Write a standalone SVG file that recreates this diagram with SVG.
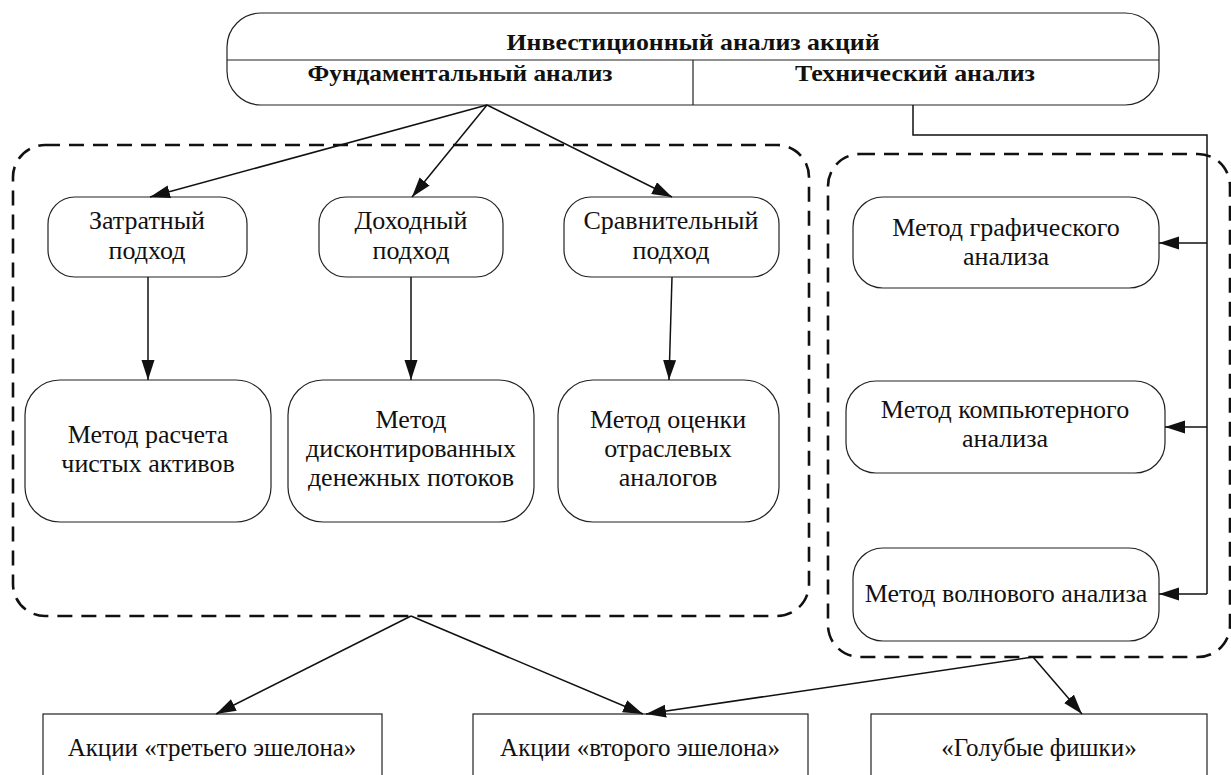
<svg xmlns="http://www.w3.org/2000/svg" width="1231" height="775" viewBox="0 0 1231 775">
<style>
.node{fill:#fff;stroke:#222;stroke-width:1.2}
.grp{fill:none;stroke:#111;stroke-width:2.6;stroke-dasharray:15 9}
.t{font-family:"Liberation Serif","Times New Roman",serif;font-size:26px;fill:#111;text-anchor:middle}
.s{font-family:"Liberation Serif","Times New Roman",serif;font-size:25px;fill:#111;text-anchor:middle}
.b{font-family:"Liberation Serif","Times New Roman",serif;font-size:23px;font-weight:bold;fill:#111;text-anchor:middle}
.c{fill:none;stroke:#111;stroke-width:1.5}
</style>
<defs>
<marker id="ah" markerUnits="userSpaceOnUse" markerWidth="21" markerHeight="14" refX="20" refY="6.5" orient="auto">
<path d="M0,0 L20,6.5 L0,13 Z" fill="#111"/>
</marker>
</defs>
<rect width="1231" height="775" fill="#fff"/>

<g id="group-fundamental"><rect class="grp" x="13" y="145" width="796" height="471" rx="32" ry="32"/></g>
<g id="group-technical"><rect class="grp" x="828" y="154" width="402" height="503" rx="32" ry="32"/></g>

<g id="top">
<rect class="node" x="227" y="13" width="932" height="92" rx="34" ry="34"/>
<line x1="227" y1="60" x2="1159" y2="60" stroke="#222" stroke-width="1.2"/>
<line x1="693" y1="60" x2="693" y2="105" stroke="#222" stroke-width="1.2"/>
<text class="b" x="693" y="50" textLength="373" lengthAdjust="spacingAndGlyphs">Инвестиционный анализ акций</text>
<text class="b" x="460" y="81" textLength="305" lengthAdjust="spacingAndGlyphs">Фундаментальный анализ</text>
<text class="b" x="915" y="81" textLength="240" lengthAdjust="spacingAndGlyphs">Технический анализ</text>
</g>

<g id="n-zatr"><rect class="node" x="48" y="197" width="199" height="80" rx="27"/>
<text class="t" x="147" y="229">Затратный</text><text class="t" x="147" y="259">подход</text></g>
<g id="n-dohod"><rect class="node" x="319" y="197" width="184" height="80" rx="27"/>
<text class="t" x="411" y="229">Доходный</text><text class="t" x="411" y="259">подход</text></g>
<g id="n-srav"><rect class="node" x="564" y="197" width="215" height="80" rx="27"/>
<text class="t" x="671" y="229">Сравнительный</text><text class="t" x="671" y="259">подход</text></g>

<g id="n-m1"><rect class="node" x="25" y="380" width="246" height="142" rx="35"/>
<text class="t" x="148" y="443">Метод расчета</text><text class="t" x="148" y="472">чистых активов</text></g>
<g id="n-m2"><rect class="node" x="288" y="380" width="246" height="142" rx="35"/>
<text class="t" x="411" y="428">Метод</text><text class="t" x="411" y="457">дисконтированных</text><text class="t" x="411" y="486">денежных потоков</text></g>
<g id="n-m3"><rect class="node" x="558" y="380" width="221" height="142" rx="35"/>
<text class="t" x="668" y="428">Метод оценки</text><text class="t" x="668" y="457">отраслевых</text><text class="t" x="668" y="486">аналогов</text></g>

<g id="n-graf"><rect class="node" x="853" y="197" width="306" height="91" rx="30"/>
<text class="t" x="1006" y="236">Метод графического</text><text class="t" x="1006" y="265">анализа</text></g>
<g id="n-comp"><rect class="node" x="846" y="381" width="319" height="92" rx="30"/>
<text class="t" x="1005" y="418">Метод компьютерного</text><text class="t" x="1005" y="447">анализа</text></g>
<g id="n-wave"><rect class="node" x="853" y="548" width="306" height="93" rx="30"/>
<text class="t" x="1006" y="602">Метод волнового анализа</text></g>

<g id="n-third"><rect class="node" x="43" y="714" width="339" height="80"/>
<text class="s" x="212" y="756">Акции «третьего эшелона»</text></g>
<g id="n-second"><rect class="node" x="473" y="714" width="335" height="80"/>
<text class="s" x="640" y="756">Акции «второго эшелона»</text></g>
<g id="n-blue"><rect class="node" x="871" y="714" width="336" height="80"/>
<text class="s" x="1039" y="756">«Голубые фишки»</text></g>

<g id="connectors">
<line class="c" x1="487" y1="105" x2="150" y2="197" marker-end="url(#ah)"/>
<line class="c" x1="487" y1="105" x2="412" y2="197" marker-end="url(#ah)"/>
<line class="c" x1="487" y1="105" x2="672" y2="197" marker-end="url(#ah)"/>
<line class="c" x1="148" y1="277" x2="148" y2="380" marker-end="url(#ah)"/>
<line class="c" x1="411" y1="277" x2="411" y2="380" marker-end="url(#ah)"/>
<line class="c" x1="672" y1="277" x2="669" y2="380" marker-end="url(#ah)"/>
<path class="c" d="M913,105 V135 H1207 V594"/>
<line class="c" x1="1207" y1="243" x2="1159" y2="243" marker-end="url(#ah)"/>
<line class="c" x1="1207" y1="427" x2="1165" y2="427" marker-end="url(#ah)"/>
<line class="c" x1="1207" y1="594" x2="1159" y2="594" marker-end="url(#ah)"/>
<line class="c" x1="411" y1="616" x2="216" y2="714" marker-end="url(#ah)"/>
<line class="c" x1="411" y1="616" x2="643" y2="714" marker-end="url(#ah)"/>
<line class="c" x1="1033" y1="657" x2="646" y2="714" marker-end="url(#ah)"/>
<line class="c" x1="1033" y1="657" x2="1082" y2="714" marker-end="url(#ah)"/>
</g>
</svg>
